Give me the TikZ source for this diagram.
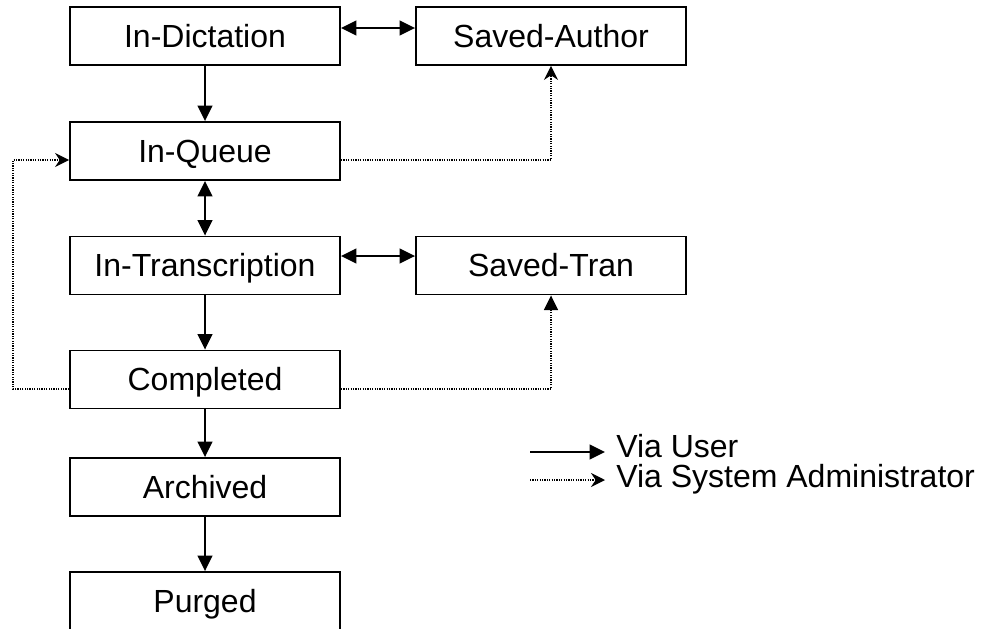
\documentclass[tikz,border=0pt]{standalone}
\usepackage{fontspec}
\setmainfont{Liberation Sans}
\usetikzlibrary{arrows.meta}
\begin{document}
\begin{tikzpicture}[x=0.75pt,y=-0.75pt,
  box/.style={draw,line width=1.4pt,rectangle,inner sep=0pt,minimum width=202.5pt,minimum height=43.5pt,text height=17.2pt,text depth=0pt,font=\fontsize{24}{29}\selectfont},
  userarrow/.style={line width=1.4pt,-{Triangle[length=11.5pt,width=11pt]}},
  userboth/.style={line width=1.4pt,{Triangle[length=11.5pt,width=11pt]}-{Triangle[length=11.5pt,width=11pt]}},
  adminline/.style={line width=1.1pt,dash pattern=on 0.9pt off 0.9pt},
  adminarrow/.style={adminline,-{Stealth[length=10.5pt,width=10.5pt,inset=3.5pt]}},
  admintri/.style={adminline,-{Triangle[length=11pt,width=10.5pt]}},
  legend/.style={anchor=base west,inner sep=0pt,font=\fontsize{24}{29}\selectfont}]
\clip (0,0) rectangle (981,628);
\fill[white] (0,0) rectangle (981,628);
\node[box] (ID) at (205,36) {In-Dictation};
\node[box] (SA) at (551,36) {Saved-Author};
\node[box] (IQ) at (205,151) {In-Queue};
\node[box] (IT) at (205,265.5) {In-Transcription};
\node[box] (ST) at (551,265.5) {Saved-Tran};
\node[box] (CO) at (205,379.5) {Completed};
\node[box] (AR) at (205,487) {Archived};
\node[box] (PU) at (205,601) {Purged};
\coordinate (qL) at (13,160);
\coordinate (cL) at (13,389);
\coordinate (qR) at (551,160);
\coordinate (cR) at (551,389);
% user transitions
\draw[userboth] (ID.east |- 0,28) -- (SA.west |- 0,28);
\draw[userarrow] (ID) -- (IQ);
\draw[userboth] (IQ) -- (IT);
\draw[userboth] (IT.east |- 0,256) -- (ST.west |- 0,256);
\draw[userarrow] (IT) -- (CO);
\draw[userarrow] (CO) -- (AR);
\draw[userarrow] (AR) -- (PU);
% admin transitions
\draw[adminarrow] (IQ.east |- 0,160) -- (qR) -- (SA.south);
\draw[admintri] (CO.east |- 0,389) -- (cR) -- (ST.south);
\draw[adminarrow] (CO.west |- 0,389) -- (cL) -- (qL) -- (IQ.west |- 0,160);
% legend
\coordinate (l1a) at (530,452);
\coordinate (l1b) at (605,452);
\coordinate (l2a) at (530,480);
\coordinate (l2b) at (605,480);
\draw[userarrow] (l1a) -- (l1b);
\draw[adminarrow] (l2a) -- (l2b);
\node[legend] (lu) at (616,457) {Via User};
\node[legend] (la) at (616,487) {Via System Administrator};
\end{tikzpicture}
\end{document}
